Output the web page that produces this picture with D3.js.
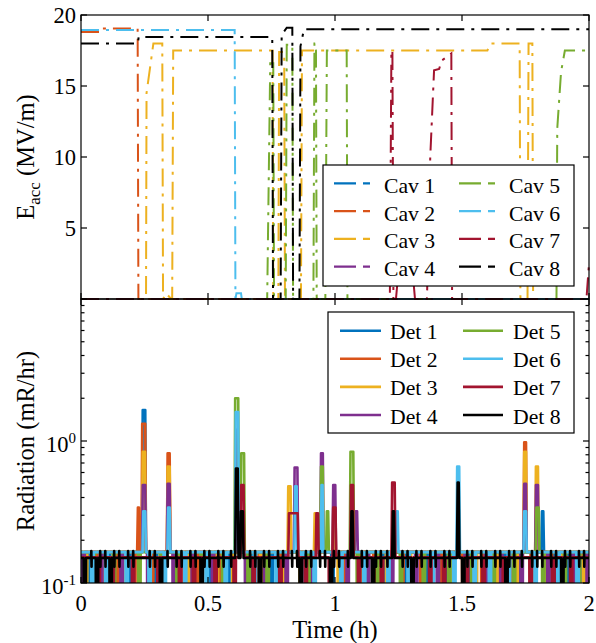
<!DOCTYPE html>
<html><head><meta charset="utf-8">
<script src="https://cdn.jsdelivr.net/npm/d3@7"></script>
</head><body style="margin:0">
<svg id="c" width="596" height="643"></svg>
<script>
// ---------- DATA ----------
const cavNames = ["Cav 1","Cav 2","Cav 3","Cav 4","Cav 5","Cav 6","Cav 7","Cav 8"];
const detNames = ["Det 1","Det 2","Det 3","Det 4","Det 5","Det 6","Det 7","Det 8"];
const colors = ["#0072BD","#D95319","#EDB120","#7E2F8E","#77AC30","#4DBEEE","#A2142F","#000000"];
const xTicks = [0,0.5,1,1.5,2];
const xTickLabels = ["0","0.5","1","1.5","2"];
const eTicks = [5,10,15,20];
const radMajor = [0.1,1,10];
const radLabels = [["10","-1"],["10","0"],null];

// Accelerating field, [time h, MV/m]
const cav1 = [[0,0],[2,0]];
const cav2 = [[0,18.8],[0.074,18.8],[0.076,19.05],[0.223,19.05],[0.226,0],[2,0]];
const cav3 = [[0,0],[0.256,0],[0.258,14.5],[0.285,18.0],[0.32,18.0],[0.323,0],[0.335,0.4],[0.355,0],[0.359,0],[0.363,17.5],[0.754,17.5],[0.757,0],[0.777,0],[0.78,17.4],[0.8,17.4],[0.803,0],[0.866,0],[0.87,17.5],[1.6,17.5],[1.612,18.0],[1.727,18.0],[1.73,0],[1.758,0],[1.762,18.0],[1.777,18.0],[1.78,0],[2,0]];
const cav4 = [[0,0],[2,0]];
const cav5 = [[0,0],[0.733,0],[0.745,16.6],[0.757,16.6],[0.76,0],[0.806,0],[0.81,17.9],[0.832,17.9],[0.835,0],[0.915,0],[0.919,18.0],[0.925,18.0],[0.928,0],[0.962,0],[0.968,17.5],[1.046,17.5],[1.049,0],[1.872,0],[1.875,12],[1.89,16],[1.905,17.5],[2,17.5]];
const cav6 = [[0,18.95],[0.605,18.95],[0.608,0],[0.612,0.4],[0.63,0.4],[0.633,0],[2,0]];
const cav7 = [[0,0],[1.216,0],[1.222,17.5],[1.226,17.5],[1.23,0],[1.24,0],[1.245,1.0],[1.31,1.0],[1.315,0],[1.362,0],[1.375,10],[1.39,16.1],[1.41,16.2],[1.42,16.8],[1.445,17.1],[1.458,17.3],[1.461,0],[1.99,0],[2,2.5]];
const cav8 = [[0,18.0],[0.224,18.0],[0.227,18.45],[0.753,18.45],[0.756,0],[0.786,0],[0.79,18.6],[0.81,19.1],[0.832,19.1],[0.835,0],[0.86,0],[0.864,17.8],[0.878,19.0],[2,19.0]];
const cavSeries = [cav1,cav2,cav3,cav4,cav5,cav6,cav7,cav8];

// Radiation: baseline level (mR/hr), dip start times (drops below axis), peaks [t0,t1,value]
const detBase = [0.165,0.165,0.165,0.165,0.165,0.165,0.152,0.15];
const dips1 = [0.025,0.105,0.185,0.29,0.4,0.5,0.575,0.665,0.745,0.875,0.985,1.12,1.19,1.27,1.355,1.43,1.52,1.595,1.665,1.715,1.86,1.915,1.965];
const dips2 = [0.055,0.14,0.205,0.275,0.39,0.455,0.545,0.69,0.785,0.905,1.035,1.15,1.26,1.335,1.41,1.5,1.575,1.685,1.77,1.845,1.94];
const dips3 = [0.015,0.085,0.165,0.265,0.315,0.42,0.53,0.595,0.705,0.8,0.86,1.01,1.095,1.2,1.29,1.375,1.455,1.55,1.635,1.71,1.82,1.885,1.975];
const dips4 = [0.005,0.075,0.155,0.26,0.36,0.435,0.515,0.645,0.72,0.805,0.905,1.045,1.125,1.22,1.315,1.4,1.51,1.59,1.65,1.73,1.835,1.93,1.99];
const dips5 = [0.045,0.125,0.225,0.31,0.375,0.47,0.555,0.655,0.73,0.89,0.955,1.085,1.165,1.255,1.345,1.445,1.535,1.62,1.7,1.815,1.9,1.955];
const dips6 = [0.04,0.095,0.175,0.265,0.325,0.405,0.49,0.565,0.68,0.765,0.865,0.915,1.02,1.11,1.205,1.285,1.38,1.465,1.545,1.605,1.68,1.785,1.875,1.95];
const dips7 = [0.065,0.12,0.2,0.3,0.385,0.44,0.525,0.6,0.675,0.78,0.88,0.975,1.09,1.18,1.3,1.37,1.425,1.515,1.58,1.66,1.765,1.855,1.925];
const dips8 = [0.01,0.058,0.112,0.31,0.47,0.7,0.86,0.98,1.145,1.3,1.5,1.67,1.89];
const blackBars = [0.02,0.04,0.075,0.095,0.13,0.15,0.185,0.205,0.27,0.29,0.32,0.34,0.375,0.395,0.43,0.45,0.485,0.505,0.54,0.56,0.59,0.665,0.685,0.72,0.74,0.775,0.795,0.83,0.85,0.885,0.905,0.94,0.96,0.995,1.015,1.05,1.105,1.125,1.16,1.18,1.205,1.265,1.285,1.32,1.34,1.375,1.395,1.43,1.45,1.52,1.54,1.575,1.595,1.63,1.65,1.685,1.705,1.735,1.775,1.795,1.815,1.85,1.87,1.905,1.925,1.96,1.98];
const peaks1 = [[0.24,0.256,1.65],[1.812,1.823,0.32]];
const peaks2 = [[0.221,0.231,0.34],[0.238,0.256,1.32],[0.338,0.352,0.82],[1.742,1.755,0.98]];
const peaks3 = [[0.24,0.255,0.84],[0.338,0.352,0.66],[0.813,0.828,0.48],[0.917,0.93,0.31],[0.99,1.0,0.33],[1.742,1.755,0.84],[1.788,1.802,0.66]];
const peaks4 = [[0.24,0.256,0.49],[0.338,0.352,0.5],[0.608,0.62,1.2],[0.838,0.855,0.65],[0.942,0.955,0.82],[0.99,1.004,0.49],[1.078,1.09,0.32],[1.742,1.755,0.5],[1.788,1.802,0.49]];
const peaks5 = [[0.604,0.622,2.0],[0.628,0.645,0.82],[0.942,0.955,0.66],[0.965,0.976,0.32],[1.058,1.075,0.84],[1.79,1.805,0.34]];
const peaks6 = [[0.242,0.256,0.32],[0.34,0.352,0.34],[0.606,0.622,1.6],[0.84,0.852,0.48],[0.944,0.954,0.49],[1.238,1.25,0.32],[1.478,1.492,0.66],[1.742,1.755,0.32]];
const peaks7 = [[0.605,0.622,0.98],[0.628,0.643,0.49],[0.816,0.856,0.31],[0.924,0.936,0.31],[0.99,1.005,0.34],[1.06,1.074,0.49],[1.222,1.238,0.51]];
const peaks8 = [[0.607,0.62,0.64],[0.627,0.64,0.32],[1.062,1.072,0.32],[1.225,1.235,0.32],[1.48,1.49,0.51]];
const detDips = [dips1,dips2,dips3,dips4,dips5,dips6,dips7,dips8];
const detPeaks = [peaks1,peaks2,peaks3,peaks4,peaks5,peaks6,peaks7,peaks8];
const dipLow = 0.06, dipWidth = 0.01, barHigh = 0.168, barLow = 0.13;

// ---------- LAYOUT ----------
const svg = d3.select("#c");
const L=81,R=589,T1=15,B1=299,T2=299,B2=583;
const x = d3.scaleLinear().domain([0,2]).range([L,R]);
const yT = d3.scaleLinear().domain([0,20]).range([B1,T1]);
const yB = d3.scaleLog().domain([0.1,10]).range([B2,T2]);
const FS = 22.5, TFS = 24.5, LFS = 21.7;
function txt(sel){ return sel.append("text").style("font-family","'Liberation Serif'").attr("fill","#000"); }

const defs = svg.append("defs");
defs.append("clipPath").attr("id","clipB").append("rect").attr("x",L).attr("y",T2).attr("width",R-L).attr("height",B2-T2);
defs.append("clipPath").attr("id","clipT").append("rect").attr("x",L-2).attr("y",T1-3).attr("width",R-L+4).attr("height",B1-T1+4);

// ---------- TOP PANEL ----------
const lineT = d3.line().x(d=>x(d[0])).y(d=>yT(d[1]));
const gT = svg.append("g").attr("clip-path","url(#clipT)");
cavSeries.forEach((s,i)=>{
  gT.append("path").attr("d",lineT(s)).attr("fill","none").attr("stroke",colors[i])
    .attr("stroke-width",2).attr("stroke-dasharray","18,7,3,7");
});

// ---------- BOTTOM PANEL ----------
function buildDet(i){
  const base = detBase[i];
  let ev = detPeaks[i].map(p=>({t0:p[0],t1:p[1],v:p[2],k:"p"}));
  detDips[i].forEach(t=>ev.push({t0:t,t1:t+dipWidth,v:dipLow,k:"d"}));
  if(i===7) blackBars.forEach(t=>ev.push({t0:t,t1:t+0.004,v:barLow,k:"b"}));
  ev.sort((a,b)=>a.t0-b.t0);
  const pts=[[0,base]]; let last=0;
  ev.forEach(e=>{
    if(e.t0 < last+0.001) return;
    if(e.k==="b"){
      pts.push([e.t0,base],[e.t0+0.0005,barHigh],[e.t0+0.0015,barLow],[e.t0+0.002,base]);
      last=e.t0+0.002;
    } else {
      const r = e.k==="p"?0.003:0.0008;
      pts.push([e.t0,base],[e.t0+r,e.v],[e.t1-r,e.v],[e.t1,base]);
      last=e.t1;
    }
  });
  pts.push([2,base]);
  return pts;
}
const lineB = d3.line().x(d=>x(d[0])).y(d=>yB(d[1]));
const gB = svg.append("g").attr("clip-path","url(#clipB)");
for(let i=0;i<8;i++){
  gB.append("path").attr("d",lineB(buildDet(i))).attr("fill","none").attr("stroke",colors[i])
    .attr("stroke-width",2.6).attr("stroke-linejoin","round");
}

// ---------- AXES ----------
const ax = svg.append("g").attr("stroke","#000").attr("stroke-width",1.2).attr("fill","none");
ax.append("rect").attr("x",L).attr("y",T1).attr("width",R-L).attr("height",B1-T1);
ax.append("rect").attr("x",L).attr("y",T2).attr("width",R-L).attr("height",B2-T2);
function tick(x1,y1,x2,y2){ax.append("line").attr("x1",x1).attr("y1",y1).attr("x2",x2).attr("y2",y2);}
eTicks.forEach(v=>{tick(L,yT(v),L+6,yT(v));tick(R-6,yT(v),R,yT(v));});
xTicks.forEach(v=>{
  tick(x(v),T1,x(v),T1+6);tick(x(v),B1-6,x(v),B1);
  tick(x(v),T2,x(v),T2+6);tick(x(v),B2-6,x(v),B2);
});
radMajor.forEach(v=>{tick(L,yB(v),L+6,yB(v));tick(R-6,yB(v),R,yB(v));});
[0.1,1].forEach(dec=>{for(let k=2;k<=9;k++){const v=k*dec;tick(L,yB(v),L+3.5,yB(v));tick(R-3.5,yB(v),R,yB(v));}});

// tick labels
const lab = svg.append("g");
eTicks.forEach(v=>txt(lab).attr("font-size",FS).attr("x",76).attr("y",yT(v)+7.5).attr("text-anchor","end").text(v));
radMajor.forEach((v,i)=>{
  const l = radLabels[i]; if(!l) return;
  const t = txt(lab).attr("font-size",FS).attr("x",76).attr("y",yB(v)+10.5).attr("text-anchor","end");
  t.append("tspan").text(l[0]);
  t.append("tspan").attr("font-size",15).attr("dy",-9).text(l[1]);
});
xTicks.forEach((v,i)=>txt(lab).attr("font-size",FS).attr("x",x(v)).attr("y",611).attr("text-anchor","middle").text(xTickLabels[i]));
txt(lab).attr("font-size",TFS).attr("x",x(1)).attr("y",638).attr("text-anchor","middle").text("Time (h)");
const yl1 = txt(lab).attr("font-size",TFS).attr("transform",`translate(34,${(T1+B1)/2}) rotate(-90)`).attr("text-anchor","middle");
yl1.append("tspan").text("E");
yl1.append("tspan").attr("font-size",17).attr("dy",6).text("acc");
yl1.append("tspan").attr("dy",-6).text(" (MV/m)");
txt(lab).attr("font-size",TFS).attr("transform",`translate(34,${(T2+B2)/2}) rotate(-90)`).attr("text-anchor","middle").text("Radiation (mR/hr)");

// ---------- LEGENDS ----------
function legend(names,box,c1,c2,row0,dy,dash,sw,textOff){
  const g = svg.append("g");
  g.append("rect").attr("x",box[0]).attr("y",box[1]).attr("width",box[2]-box[0]).attr("height",box[3]-box[1])
   .attr("fill","#fff").attr("stroke","#000").attr("stroke-width",1.2);
  names.forEach((n,i)=>{
    const col = i<4?c1:c2, r=i%4, y=row0+r*dy;
    g.append("line").attr("x1",col[0]).attr("x2",col[1]).attr("y1",y).attr("y2",y)
     .attr("stroke",colors[i]).attr("stroke-width",sw).attr("stroke-dasharray",dash);
    txt(g).attr("x",col[2]).attr("y",y+textOff).attr("font-size",LFS).text(n);
  });
}
legend(cavNames,[323,165,574,286],[334,371,384],[459,495,509],183.3,27.8,"22,7,7,60",2.2,9.5);
legend(detNames,[328,312,574,433],[340,381,390],[463,503,513],330.7,28.1,null,2.6,8.5);
</script></body></html>
